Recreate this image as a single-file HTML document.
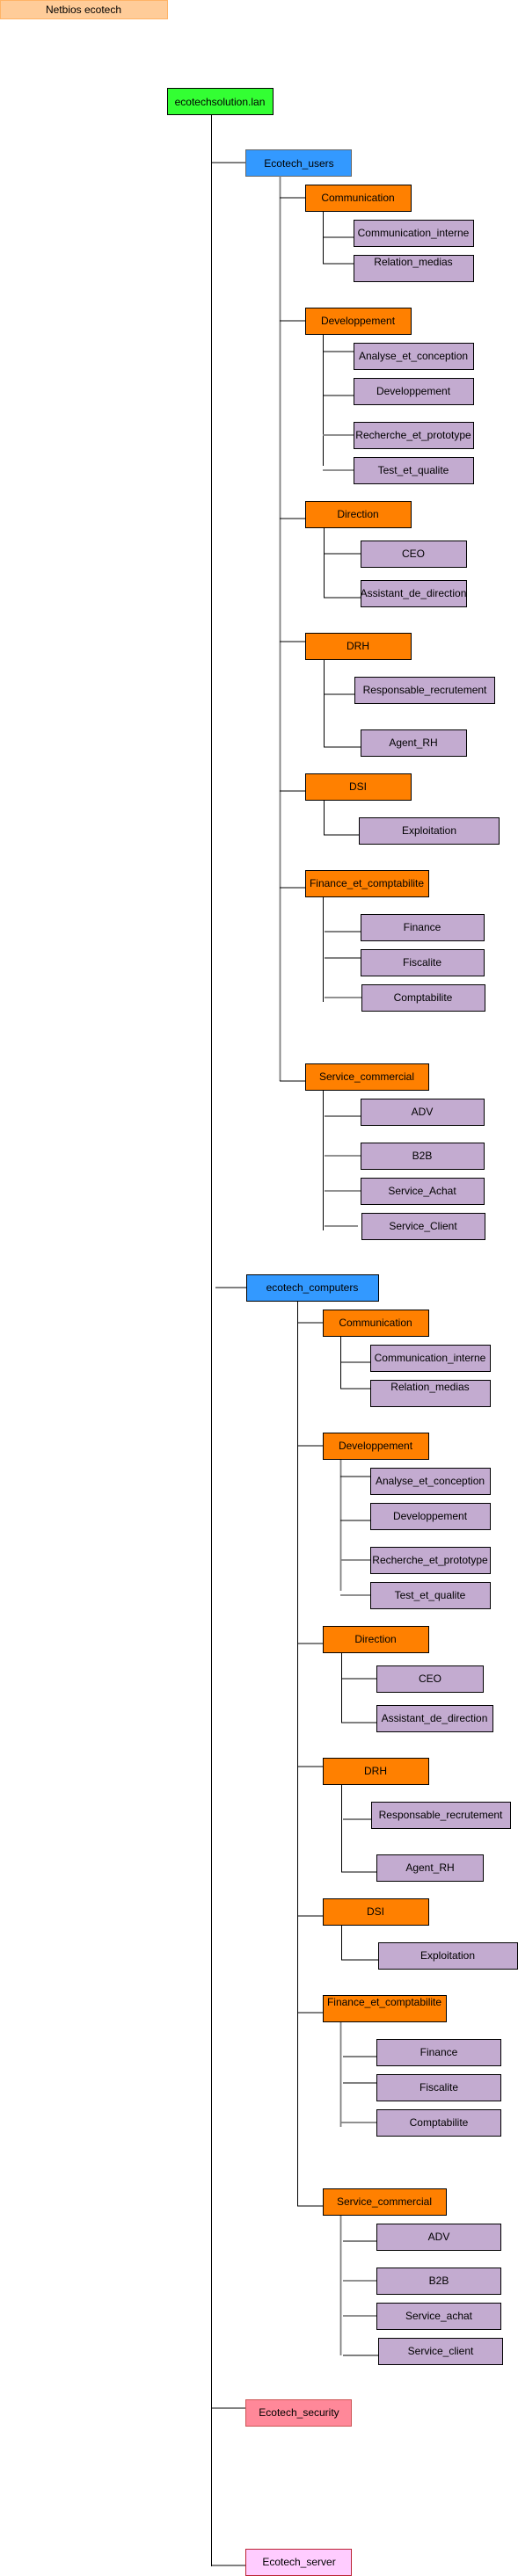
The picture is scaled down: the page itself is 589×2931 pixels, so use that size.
<!DOCTYPE html>
<html><head><meta charset="utf-8"><style>
html,body{margin:0;padding:0;background:#fff;}
svg{display:block;}
text{font-family:"Liberation Sans",Arial,sans-serif;font-size:12px;fill:#000;text-anchor:middle;}
.l{stroke:#000;stroke-width:1;fill:none;}
.g{stroke:#808080;stroke-width:1.8;fill:none;}
.p{fill:#c3abd0;stroke:#000;stroke-width:1;}
.o{fill:#ff8000;stroke:#000;stroke-width:1;}
</style></head><body>
<svg width="589" height="2931" viewBox="0 0 589 2931" xmlns="http://www.w3.org/2000/svg">
<rect x="0.5" y="0.5" width="190" height="21" fill="#ffcc99" stroke="#ffb366"/>
<text x="95" y="15">Netbios ecotech</text>
<path class="l" d="M240.5 130V2920M240 185H279M245 1465H280M240 2740H279M240 2919H279"/>
<rect x="190.5" y="100.5" width="120" height="30" fill="#33ff33" stroke="#000"/>
<text x="250" y="120">ecotechsolution.lan</text>

<rect x="279.5" y="170.5" width="120" height="30" fill="#3399ff" stroke="#666"/>
<text x="340" y="190">Ecotech_users</text>
<path class="g" d="M318.5 200V1230"/>
<path class="l" d="M318 225H347M318 365H347M318 590H347M318 730H347M318 900H347M318 1010H347M318 1230H347"/>
<path class="l" d="M367.5 240V300M367 270H402M367 300H402"/>
<path class="l" d="M367.5 380V530M367 400H402M367 450H402"/>
<path class="g" d="M367 495H402M367 535H402"/>
<path class="l" d="M368.5 600V680M368 630H410M368 680H410"/>
<path class="l" d="M368.5 750V850M368 790H403M368 850H410"/>
<path class="l" d="M368.5 910V950H408"/>
<path class="l" d="M367.5 1020V1140M369 1060H410M369 1090H410"/>
<path class="g" d="M369 1135H411"/>
<path class="l" d="M367.5 1240V1400M369 1270H410"/>
<path class="g" d="M369 1315H410M369 1355H410M369 1395H407"/>
<rect class="o" x="347.5" y="210.5" width="120" height="30"/><text x="407" y="229">Communication</text>
<rect class="p" x="402.5" y="250.5" width="136" height="30"/><text x="470" y="269">Communication_interne</text>
<rect class="p" x="402.5" y="290.5" width="136" height="30"/><text x="470" y="302">Relation_medias</text>
<rect class="o" x="347.5" y="350.5" width="120" height="30"/><text x="407" y="369">Developpement</text>
<rect class="p" x="402.5" y="390.5" width="136" height="30"/><text x="470" y="409">Analyse_et_conception</text>
<rect class="p" x="402.5" y="430.5" width="136" height="30"/><text x="470" y="449">Developpement</text>
<rect class="p" x="402.5" y="480.5" width="136" height="30"/><text x="470" y="499">Recherche_et_prototype</text>
<rect class="p" x="402.5" y="520.5" width="136" height="30"/><text x="470" y="539">Test_et_qualite</text>
<rect class="o" x="347.5" y="570.5" width="120" height="30"/><text x="407" y="589">Direction</text>
<rect class="p" x="410.5" y="615.5" width="120" height="30"/><text x="470" y="634">CEO</text>
<rect class="p" x="410.5" y="660.5" width="120" height="30"/><text x="470" y="679">Assistant_de_direction</text>
<rect class="o" x="347.5" y="720.5" width="120" height="30"/><text x="407" y="739">DRH</text>
<rect class="p" x="403.5" y="770.5" width="159" height="30"/><text x="483" y="789">Responsable_recrutement</text>
<rect class="p" x="410.5" y="830.5" width="120" height="30"/><text x="470" y="849">Agent_RH</text>
<rect class="o" x="347.5" y="880.5" width="120" height="30"/><text x="407" y="899">DSI</text>
<rect class="p" x="408.5" y="930.5" width="159" height="30"/><text x="488" y="949">Exploitation</text>
<rect class="o" x="347.5" y="990.5" width="140" height="30"/><text x="417" y="1009">Finance_et_comptabilite</text>
<rect class="p" x="410.5" y="1040.5" width="140" height="30"/><text x="480" y="1059">Finance</text>
<rect class="p" x="410.5" y="1080.5" width="140" height="30"/><text x="480" y="1099">Fiscalite</text>
<rect class="p" x="411.5" y="1120.5" width="140" height="30"/><text x="481" y="1139">Comptabilite</text>
<rect class="o" x="347.5" y="1210.5" width="140" height="30"/><text x="417" y="1229">Service_commercial</text>
<rect class="p" x="410.5" y="1250.5" width="140" height="30"/><text x="480" y="1269">ADV</text>
<rect class="p" x="410.5" y="1300.5" width="140" height="30"/><text x="480" y="1319">B2B</text>
<rect class="p" x="410.5" y="1340.5" width="140" height="30"/><text x="480" y="1359">Service_Achat</text>
<rect class="p" x="411.5" y="1380.5" width="140" height="30"/><text x="481" y="1399">Service_Client</text>

<rect x="280.5" y="1450.5" width="150" height="30" fill="#3399ff" stroke="#000"/>
<text x="355" y="1469">ecotech_computers</text>
<path class="l" d="M338.5 1480V2510"/>
<path class="l" d="M338 1505H367M338 1645H367M338 1870H367M338 2010H367M338 2180H367M338 2290H367M338 2510H367"/>
<path class="l" d="M387.5 1520V1580M387 1550H421M387 1580H421"/>
<path class="g" d="M387.5 1660V1810"/>
<path class="l" d="M387 1680H421M387 1730H421"/>
<path class="g" d="M387 1775H421M387 1815H421"/>
<path class="l" d="M388.5 1880V1960M388 1910H428M388 1960H428"/>
<path class="l" d="M388.5 2030V2130M390 2070H422M388 2130H428"/>
<path class="l" d="M388.5 2190V2230H430"/>
<path class="g" d="M387.5 2300V2420"/>
<path class="l" d="M390 2340H428M390 2370H428"/>
<path class="g" d="M388 2415H428"/>
<path class="g" d="M387.5 2520V2680"/>
<path class="l" d="M390 2550H428"/>
<path class="g" d="M390 2595H428M390 2635H428"/>
<path class="l" d="M390 2680H430"/>
<rect class="o" x="367.5" y="1490.5" width="120" height="30"/><text x="427" y="1509">Communication</text>
<rect class="p" x="421.5" y="1530.5" width="136" height="30"/><text x="489" y="1549">Communication_interne</text>
<rect class="p" x="421.5" y="1570.5" width="136" height="30"/><text x="489" y="1582">Relation_medias</text>
<rect class="o" x="367.5" y="1630.5" width="120" height="30"/><text x="427" y="1649">Developpement</text>
<rect class="p" x="421.5" y="1670.5" width="136" height="30"/><text x="489" y="1689">Analyse_et_conception</text>
<rect class="p" x="421.5" y="1710.5" width="136" height="30"/><text x="489" y="1729">Developpement</text>
<rect class="p" x="421.5" y="1760.5" width="136" height="30"/><text x="489" y="1779">Recherche_et_prototype</text>
<rect class="p" x="421.5" y="1800.5" width="136" height="30"/><text x="489" y="1819">Test_et_qualite</text>
<rect class="o" x="367.5" y="1850.5" width="120" height="30"/><text x="427" y="1869">Direction</text>
<rect class="p" x="428.5" y="1895.5" width="121" height="30"/><text x="489" y="1914">CEO</text>
<rect class="p" x="428.5" y="1940.5" width="132" height="30"/><text x="494" y="1959">Assistant_de_direction</text>
<rect class="o" x="367.5" y="2000.5" width="120" height="30"/><text x="427" y="2019">DRH</text>
<rect class="p" x="422.5" y="2050.5" width="158" height="30"/><text x="501" y="2069">Responsable_recrutement</text>
<rect class="p" x="428.5" y="2110.5" width="121" height="30"/><text x="489" y="2129">Agent_RH</text>
<rect class="o" x="367.5" y="2160.5" width="120" height="30"/><text x="427" y="2179">DSI</text>
<rect class="p" x="430.5" y="2210.5" width="158" height="30"/><text x="509" y="2229">Exploitation</text>
<rect class="o" x="367.5" y="2270.5" width="140" height="30"/><text x="437" y="2282">Finance_et_comptabilite</text>
<rect class="p" x="428.5" y="2320.5" width="141" height="30"/><text x="499" y="2339">Finance</text>
<rect class="p" x="428.5" y="2360.5" width="141" height="30"/><text x="499" y="2379">Fiscalite</text>
<rect class="p" x="428.5" y="2400.5" width="141" height="30"/><text x="499" y="2419">Comptabilite</text>
<rect class="o" x="367.5" y="2490.5" width="140" height="30"/><text x="437" y="2509">Service_commercial</text>
<rect class="p" x="428.5" y="2530.5" width="141" height="30"/><text x="499" y="2549">ADV</text>
<rect class="p" x="428.5" y="2580.5" width="141" height="30"/><text x="499" y="2599">B2B</text>
<rect class="p" x="428.5" y="2620.5" width="141" height="30"/><text x="499" y="2639">Service_achat</text>
<rect class="p" x="430.5" y="2660.5" width="141" height="30"/><text x="501" y="2679">Service_client</text>

<rect x="279.5" y="2730.5" width="120" height="30" fill="#ff8899" stroke="#cc5555"/>
<text x="340" y="2749">Ecotech_security</text>
<rect x="279.5" y="2900.5" width="120" height="30" fill="#ffccff" stroke="#bb2233"/>
<text x="340" y="2919">Ecotech_server</text>
</svg>
</body></html>
